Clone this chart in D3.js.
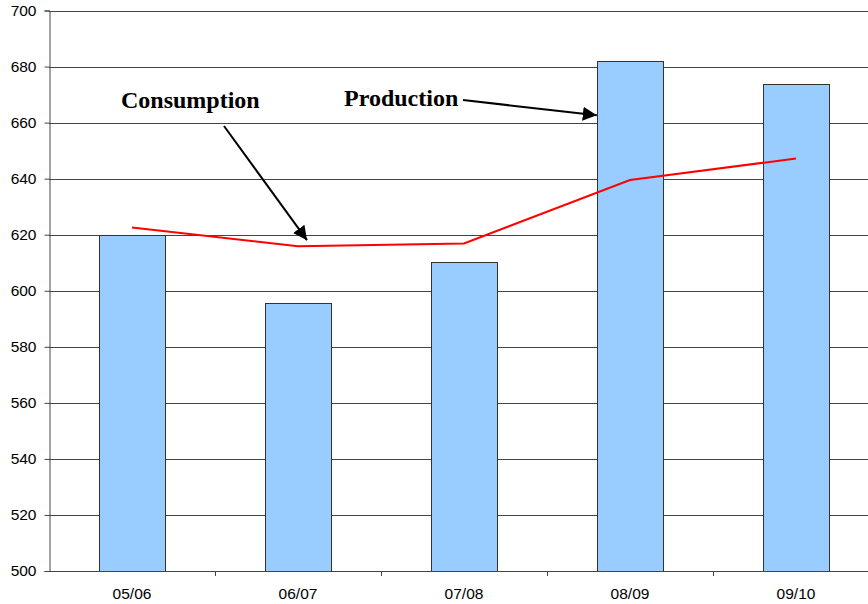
<!DOCTYPE html>
<html lang="en">
<head>
<meta charset="UTF-8">
<title>Production and Consumption</title>
<script src="https://cdnjs.cloudflare.com/ajax/libs/d3/7.8.5/d3.min.js"></script>
<style>
    body { margin: 0; background: #fff; }
    svg { display: block; }
    .tick text { font-family: Arial, "Liberation Sans", sans-serif; font-size: 15.5px; fill: #000; }
    .note { font-family: "Times New Roman", "Liberation Serif", serif; font-weight: bold; font-size: 24px; }
</style>
</head>
<body>
<svg width="868" height="604"></svg>
<script>
    const seasons = ["05/06", "06/07", "07/08", "08/09", "09/10"];
    const production = [620, 595.7, 610.3, 681.9, 673.8];
    const consumption = [622.6, 615.9, 616.9, 639.5, 647.2];
    const yTicks = [500, 520, 540, 560, 580, 600, 620, 640, 660, 680, 700];

    const svg = d3.select("svg");
    const plotLeft = 49, plotTop = 10.5, plotBottom = 571, bandW = 166;

    const x = d3.scaleBand()
        .domain(seasons)
        .range([plotLeft, plotLeft + bandW * seasons.length])
        .paddingInner(0.6)
        .paddingOuter(0.3);
    const y = d3.scaleLinear().domain([500, 700]).range([plotBottom, plotTop]);

    // grid
    svg.append("g")
        .selectAll("line")
        .data(yTicks.slice(1))
        .join("line")
        .attr("x1", plotLeft).attr("x2", 868)
        .attr("y1", d => Math.round(y(d)) + 0.5).attr("y2", d => Math.round(y(d)) + 0.5)
        .attr("stroke", "#444").attr("stroke-width", 1);

    // bars
    svg.append("g")
        .selectAll("rect")
        .data(production)
        .join("rect")
        .attr("x", (d, i) => Math.round(x(seasons[i])) + 0.5)
        .attr("y", d => Math.round(y(d)) + 0.5)
        .attr("width", Math.round(x.bandwidth()))
        .attr("height", d => plotBottom - Math.round(y(d)))
        .attr("fill", "#99ccff")
        .attr("stroke", "#333").attr("stroke-width", 1);

    // axes
    const yAxis = d3.axisLeft(y).tickValues(yTicks).tickSize(5).tickPadding(8);
    svg.append("g")
        .attr("transform", `translate(${plotLeft + 0.5},0)`)
        .call(yAxis)
        .call(g => g.select(".domain").attr("stroke", "#444"))
        .call(g => g.selectAll(".tick line").attr("stroke", "#444"));

    const xAxis = d3.axisBottom(x).tickSize(0).tickPadding(16);
    svg.append("g")
        .attr("transform", `translate(0,${plotBottom + 0.5})`)
        .call(xAxis)
        .call(g => g.select(".domain").attr("stroke", "#444").attr("d", `M${plotLeft},0H868`))
        .call(g => g.selectAll(".tick text").attr("dy", "0.71em"));

    // tick marks between categories
    svg.append("g")
        .selectAll("line")
        .data(seasons.slice(1))
        .join("line")
        .attr("x1", d => Math.round(x(d) - x.step() * x.paddingInner() / 2) + 0.5)
        .attr("x2", d => Math.round(x(d) - x.step() * x.paddingInner() / 2) + 0.5)
        .attr("y1", plotBottom).attr("y2", plotBottom + 5)
        .attr("stroke", "#444");

    // consumption line
    const line = d3.line()
        .x((d, i) => x(seasons[i]) + x.bandwidth() / 2)
        .y(d => y(d));
    svg.append("path")
        .datum(consumption)
        .attr("d", line)
        .attr("fill", "none")
        .attr("stroke", "#ff0000")
        .attr("stroke-width", 2);

    // annotations
    svg.append("defs").append("marker")
        .attr("id", "arrow")
        .attr("viewBox", "0 0 10 10")
        .attr("refX", 10).attr("refY", 5)
        .attr("markerWidth", 7).attr("markerHeight", 7)
        .attr("markerUnits", "strokeWidth")
        .attr("orient", "auto")
        .append("path")
        .attr("d", "M0,0L10,5L0,10z")
        .attr("fill", "#000");

    const cx = x("06/07") + x.bandwidth() / 2 + 9;
    const cy = y(consumption[1]) - 6;
    svg.append("line")
        .attr("x1", 224).attr("y1", 126)
        .attr("x2", cx).attr("y2", cy)
        .attr("stroke", "#000").attr("stroke-width", 2)
        .attr("marker-end", "url(#arrow)");

    const px = x("08/09");
    const py = y(662.6);
    svg.append("line")
        .attr("x1", 463).attr("y1", 100)
        .attr("x2", px).attr("y2", py)
        .attr("stroke", "#000").attr("stroke-width", 2)
        .attr("marker-end", "url(#arrow)");

    svg.append("text").attr("class", "note")
        .attr("x", 121).attr("y", 108)
        .text("Consumption");
    svg.append("text").attr("class", "note")
        .attr("x", 344).attr("y", 106)
        .text("Production");
</script>
</body>
</html>
